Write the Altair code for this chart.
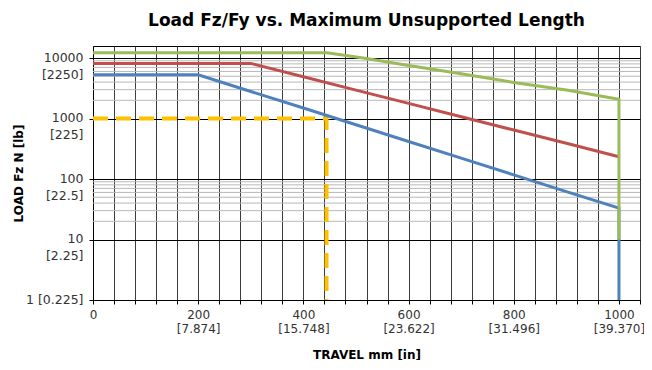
import altair as alt
import pandas as pd

# ---- data ----
blue_x = [0, 200, 300, 400, 500, 600, 700, 800, 900, 1000, 1000]
blue_y = [5300, 5300, 2800, 1490, 790, 417, 221, 117, 62, 33, 1]
red_x = [0, 300, 400, 500, 600, 700, 800, 900, 1000]
red_y = [8150, 8150, 4900, 2950, 1780, 1070, 645, 390, 234]
green_x = [0, 445, 520, 600, 700, 800, 900, 1000, 1000]
green_y = [12200, 12200, 9800, 7500, 5500, 3950, 2950, 2080, 10]
yellow_x = [0, 444, 444]
yellow_y = [1000, 1000, 1]

x_tick_mm = [0, 200, 400, 600, 800, 1000]
x_tick_in = ["", "[7.874]", "[15.748]", "[23.622]", "[31.496]", "[39.370]"]
y_tick_n = [1, 10, 100, 1000, 10000]
y_tick_lb = ["[0.225]", "[2.25]", "[22.5]", "[225]", "[2250]"]
y_minor = [2000, 3000, 4000, 5000, 6000, 7000, 8000, 9000,
           20, 30, 40, 50, 60, 70, 80, 90]
x_grid = list(range(0, 1041, 40))

rows = []
for name, xs, ys in [("blue", blue_x, blue_y), ("red", red_x, red_y), ("green", green_x, green_y)]:
    for i, (a, b) in enumerate(zip(xs, ys)):
        rows.append({"series": name, "x": a, "y": b, "i": i})
df = pd.DataFrame(rows)
ydf = pd.DataFrame({"x": yellow_x, "y": yellow_y, "i": list(range(len(yellow_x)))})
mdf = pd.DataFrame({"y": y_minor})

# label expressions
xe = []
for mm, inch in zip(x_tick_mm, x_tick_in):
    if inch:
        xe.append(f"datum.value == {mm} ? ['{mm}', '{inch}']")
    else:
        xe.append(f"datum.value == {mm} ? '{mm}'")
x_label_expr = " : ".join(xe) + " : ''"
ye = []
for n, lb in zip(y_tick_n, y_tick_lb):
    if n == 1:
        ye.append(f"datum.value == {n} ? '{n} {lb}'")
    else:
        ye.append(f"datum.value == {n} ? ['{n}', '{lb}']")
y_label_expr = " : ".join(ye) + " : ''"

FONT = "DejaVu Sans"

xscale = alt.Scale(domain=[0, 1040], nice=False, zero=False)
yscale = alt.Scale(type="log", domain=[1, 15800], nice=False)

X = alt.X("x:Q", scale=xscale, axis=alt.Axis(
    values=x_grid, labelExpr=x_label_expr, title="TRAVEL  mm [in]",
    grid=True, gridColor="#3c3c3c", gridWidth=1,
    tickSize=4, tickColor="#000", domainColor="#000",
    labelFont=FONT, labelFontSize=12, labelColor="#333", labelLineHeight=14,
    labelPadding=5, labelOverlap=False, labelFlush=False,
    titleFont=FONT, titleFontSize=12, titleFontWeight="bold", titleColor="#000",
    titleY=54, titleBaseline="middle"))
Y = alt.Y("y:Q", scale=yscale, axis=alt.Axis(
    values=y_tick_n, labelExpr=y_label_expr, title="LOAD  Fz N [lb]",
    grid=True, gridColor="#000", gridWidth=1,
    tickSize=4, tickColor="#000", domainColor="#000",
    labelFont=FONT, labelFontSize=12.5, labelColor="#333", labelLineHeight=17,
    labelBaseline="top", labelOffset=-7, labelPadding=6,
    labelOverlap=False, labelFlush=False,
    titleFont=FONT, titleFontSize=12, titleFontWeight="bold", titleColor="#000",
    titleX=-75, titleAngle=270, titleBaseline="middle"))

minor = alt.Chart(mdf).mark_rule(color="#b8b8b8", strokeWidth=1).encode(y=Y)

lines = alt.Chart(df).mark_line(strokeWidth=3).encode(
    x=X, y=Y,
    color=alt.Color("series:N", scale=alt.Scale(domain=["blue", "red", "green"],
                                               range=["#4F81BD", "#C0504D", "#9BBB59"]),
                    legend=None),
    order="i:Q")

yellow = alt.Chart(ydf).mark_line(strokeWidth=4, color="#FFC000", strokeDash=[15, 8]).encode(
    x=X, y=Y, order="i:Q")

chart = alt.layer(minor, yellow, lines).properties(
    width=547, height=254,
    title=alt.TitleParams("Load Fz/Fy vs. Maximum Unsupported Length", font=FONT,
                          fontSize=17, fontWeight="bold", color="#000",
                          anchor="middle", offset=16),
    autosize=alt.AutoSizeParams(type="none"),
    padding={"left": 85, "top": 38, "right": 4, "bottom": 60},
).configure_view(stroke="#000", strokeWidth=1)

chart.save("out.html", embed_options={"renderer": "svg", "actions": False})
